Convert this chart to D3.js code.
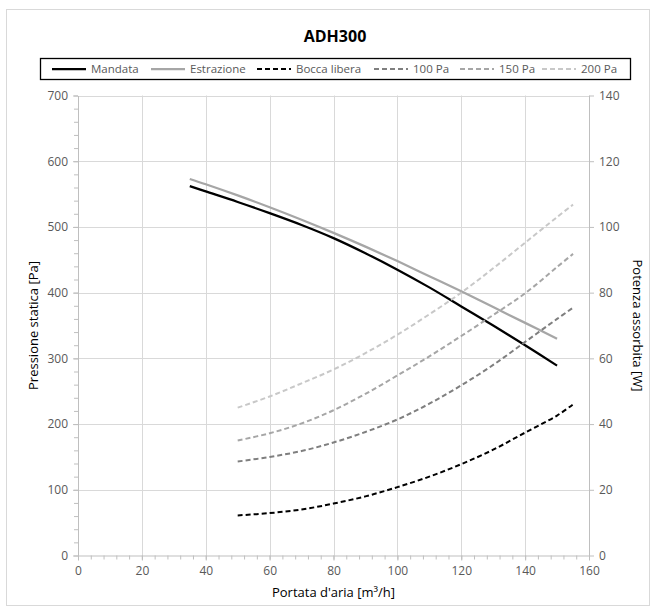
<!DOCTYPE html>
<html><head><meta charset="utf-8">
<script src="https://cdn.jsdelivr.net/npm/d3@7"></script>
<style>body{margin:0;background:#fff}svg{display:block}text{font-family:"Open Sans","Liberation Sans",sans-serif}</style>
</head><body><svg id="c" width="655" height="613"></svg>
<script>
const title = "ADH300";
const xTicks = [0,20,40,60,80,100,120,140,160];
const yLeftTicks = [0,100,200,300,400,500,600,700];
const yRightTicks = [0,20,40,60,80,100,120,140];
// Pressure curves (left axis, Pa)
const xPress = [35,40,50,60,70,80,90,100,110,120,130,140,150];
const mandata = [562,554,538,521,503,483,460,435,408,379,350,320,289];
const estrazione = [573,565,548,530,511,491,470,448,425,402,378,354,330];
// Power curves (right axis, W)
const xPow = [50,60,70,80,90,100,110,120,130,140,150,155];
const boccaLibera = [12.2,12.9,14,15.8,18,20.8,24,27.8,32.2,37.4,42.6,46];
const pa100 = [28.6,30,31.8,34.4,37.6,41.4,46.2,51.8,58,65,72,75.4];
const pa150 = [35,37.2,40.2,44.2,49.2,54.8,60.6,66.8,73.2,79.8,87.8,91.8];
const pa200 = [45,48.4,52.4,56.6,61.6,67.2,73.4,80,87.4,95.2,103,106.8];

const series = [
  {name:"Mandata", xs:xPress, ys:mandata, axis:"L", color:"#000000", w:2.25, dash:null},
  {name:"Estrazione", xs:xPress, ys:estrazione, axis:"L", color:"#a6a6a6", w:2.25, dash:null},
  {name:"Bocca libera", xs:xPow, ys:boccaLibera, axis:"R", color:"#000000", w:2, dash:"5,3"},
  {name:"100 Pa", xs:xPow, ys:pa100, axis:"R", color:"#7f7f7f", w:2, dash:"5,3"},
  {name:"150 Pa", xs:xPow, ys:pa150, axis:"R", color:"#a6a6a6", w:2, dash:"5,3"},
  {name:"200 Pa", xs:xPow, ys:pa200, axis:"R", color:"#c8c8c8", w:2, dash:"5,3"}
];

const svg = d3.select("#c");
const m = {l:78, r:589, t:95.5, b:555.5};
const x = d3.scaleLinear().domain([0,160]).range([m.l, m.r]);
const yL = d3.scaleLinear().domain([0,700]).range([m.b, m.t]);
const yR = d3.scaleLinear().domain([0,140]).range([m.b, m.t]);

// outer border
svg.append("rect").attr("x",6.5).attr("y",9.5).attr("width",643).attr("height",596)
  .attr("fill","#fff").attr("stroke","#d9d9d9");

// grid
const grid = svg.append("g").attr("stroke","#d9d9d9").attr("stroke-width",1);
xTicks.slice(1).forEach(v=>grid.append("line").attr("x1",Math.round(x(v))+0.5).attr("x2",Math.round(x(v))+0.5).attr("y1",m.t).attr("y2",m.b));
yLeftTicks.slice(1).forEach(v=>grid.append("line").attr("x1",m.l).attr("x2",m.r).attr("y1",Math.round(yL(v))+0.5).attr("y2",Math.round(yL(v))+0.5));

// axes
function styleAxis(g){
  g.selectAll("path").attr("stroke","#bfbfbf");
  g.selectAll("line").attr("stroke","#bfbfbf");
  g.selectAll("text").attr("fill","#595959").style("font-size","12px");
}
// minor ticks
const gxMinor = svg.append("g").attr("transform",`translate(0,${m.b})`)
  .call(d3.axisBottom(x).tickValues(d3.range(0,161,4)).tickSize(4).tickFormat(""));
gxMinor.select("path").remove(); styleAxis(gxMinor);
const gyMinor = svg.append("g").attr("transform",`translate(${m.l},0)`)
  .call(d3.axisLeft(yL).tickValues(d3.range(0,701,20)).tickSize(4).tickFormat(""));
gyMinor.select("path").remove(); styleAxis(gyMinor);

const gx = svg.append("g").attr("transform",`translate(0,${m.b})`)
  .call(d3.axisBottom(x).tickValues(xTicks).tickSize(5).tickPadding(6).tickSizeOuter(0));
styleAxis(gx);
const gyl = svg.append("g").attr("transform",`translate(${m.l},0)`)
  .call(d3.axisLeft(yL).tickValues(yLeftTicks).tickSize(5).tickPadding(5).tickSizeOuter(0));
styleAxis(gyl);
const gyr = svg.append("g").attr("transform",`translate(${m.r},0)`)
  .call(d3.axisRight(yR).tickValues(yRightTicks).tickSize(5).tickPadding(5).tickSizeOuter(0));
styleAxis(gyr);

// series
series.forEach(s=>{
  const ys = s.axis==="L"?yL:yR;
  const line = d3.line().x((d,i)=>x(s.xs[i])).y(d=>ys(d)).curve(d3.curveCatmullRom);
  svg.append("path").datum(s.ys).attr("d",line).attr("fill","none")
    .attr("stroke",s.color).attr("stroke-width",s.w)
    .attr("stroke-dasharray",s.dash);
});

// title
svg.append("text").attr("x",335).attr("y",42).attr("text-anchor","middle")
  .style("font-size","16px").style("font-weight","bold").attr("fill","#000").text(title);

// legend
svg.append("rect").attr("x",40.5).attr("y",58.5).attr("width",590).attr("height",21)
  .attr("fill","#fff").attr("stroke","#000").attr("stroke-width",1.3);
const legX = [52,151,257,374,460,542];
series.forEach((s,i)=>{
  const g = svg.append("g").attr("transform",`translate(${legX[i]},69)`);
  g.append("line").attr("x1",0).attr("x2",34).attr("y1",0).attr("y2",0)
    .attr("stroke",s.color).attr("stroke-width",s.w).attr("stroke-dasharray",s.dash);
  g.append("text").attr("x",39).attr("y",4).style("font-size","11.5px").attr("fill","#595959").text(s.name);
});

// axis titles
svg.append("text").attr("transform",`translate(38,${(m.t+m.b)/2}) rotate(-90)`).attr("text-anchor","middle")
  .style("font-size","13px").attr("fill","#000").text("Pressione statica [Pa]");
svg.append("text").attr("transform",`translate(633,${(m.t+m.b)/2}) rotate(90)`).attr("text-anchor","middle")
  .style("font-size","13px").attr("fill","#000").text("Potenza assorbita [W]");
svg.append("text").attr("x",(m.l+m.r)/2).attr("y",597).attr("text-anchor","middle")
  .style("font-size","13px").attr("fill","#000").text("Portata d'aria [m³/h]");
</script></body></html>
